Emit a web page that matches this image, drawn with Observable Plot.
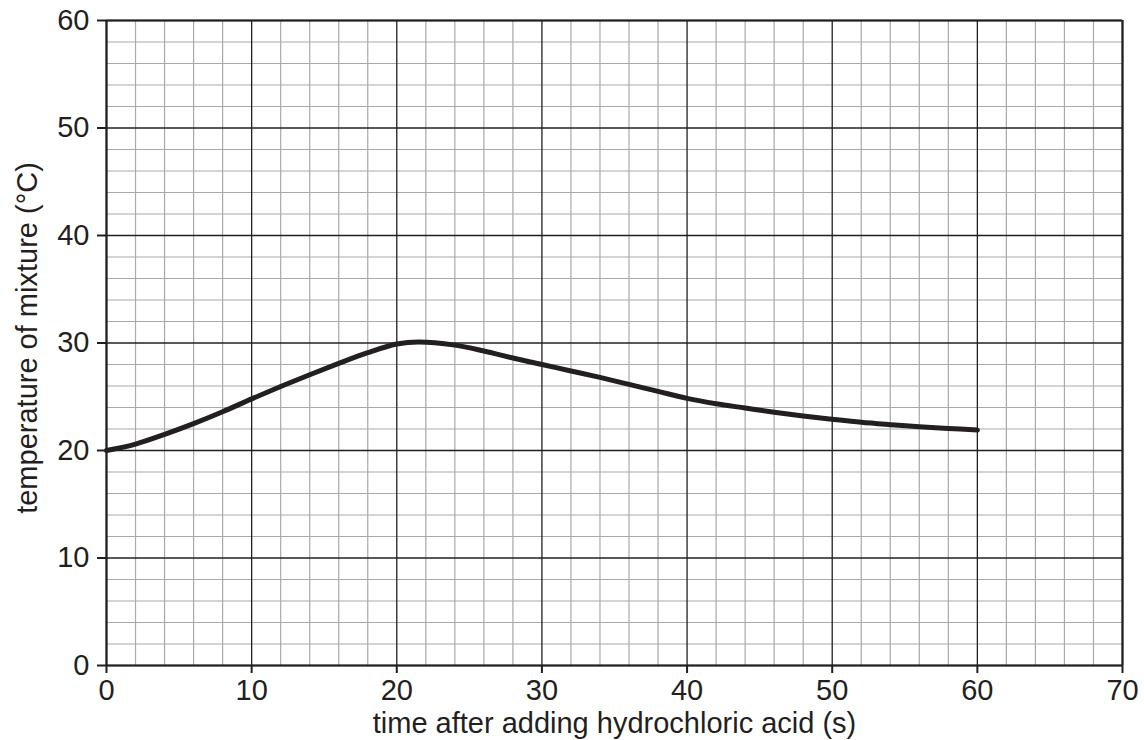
<!DOCTYPE html>
<html>
<head>
<meta charset="utf-8">
<script src="https://cdn.jsdelivr.net/npm/d3@7"></script>
<script src="https://cdn.jsdelivr.net/npm/@observablehq/plot@0.6"></script>
<style>
  html, body { margin: 0; padding: 0; background: #fff; }
  svg { display: block; }
</style>
</head>
<body>
<div id="chart"></div>
<script>
// Data
const time = [0, 2, 4, 6, 8, 10, 12, 14, 16, 18, 20, 21.5, 24, 26, 28, 30, 32, 34, 36, 38, 40, 42, 44, 46, 48, 50, 52, 54, 56, 58, 60];
const temperature = [20, 20.6, 21.5, 22.5, 23.6, 24.8, 25.95, 27.05, 28.1, 29.1, 29.9, 30.1, 29.8, 29.25, 28.6, 28, 27.4, 26.8, 26.15, 25.5, 24.85, 24.35, 23.95, 23.55, 23.2, 22.9, 22.62, 22.4, 22.2, 22.05, 21.9];

const xTicks = [0, 10, 20, 30, 40, 50, 60, 70];
const yTicks = [0, 10, 20, 30, 40, 50, 60];
const xMinor = d3.range(2, 70, 2).filter(v => v % 10 !== 0);
const yMinor = d3.range(2, 60, 2).filter(v => v % 10 !== 0);

const xLabel = "time after adding hydrochloric acid (s)";
const yLabel = "temperature of mixture (°C)";

const data = time.map((t, i) => ({t, temp: temperature[i]}));

const ink = "#231f20";

const chart = Plot.plot({
  width: 1144,
  height: 740,
  marginLeft: 106,
  marginRight: 22,
  marginTop: 20,
  marginBottom: 75,
  style: {fontFamily: "'Liberation Sans', Arial, sans-serif", fontSize: "29px", color: ink, background: "#fff"},
  x: {domain: [0, 70], axis: null},
  y: {domain: [0, 60], axis: null},
  marks: [
    Plot.ruleX(xMinor, {stroke: "#a7a9ac", strokeWidth: 1.2}),
    Plot.ruleY(yMinor, {stroke: "#a7a9ac", strokeWidth: 1.2}),
    Plot.ruleX(xTicks, {stroke: ink, strokeWidth: 1.3}),
    Plot.ruleY(yTicks, {stroke: ink, strokeWidth: 1.3}),
    Plot.ruleX([0, 70], {stroke: ink, strokeWidth: 2.2}),
    Plot.ruleY([0, 60], {stroke: ink, strokeWidth: 2}),
    Plot.line(data, {x: "t", y: "temp", stroke: ink, strokeWidth: 5, curve: "catmull-rom"}),
    Plot.axisX(xTicks, {tickSize: 8, tickPadding: 6, strokeWidth: 2, label: null, fontSize: 29}),
    Plot.axisY(yTicks, {tickSize: 9, tickPadding: 8, strokeWidth: 2, label: null, fontSize: 29}),
    Plot.text([xLabel], {frameAnchor: "bottom", dy: 67, lineAnchor: "bottom", text: d => d, fontSize: 29, fill: ink}),
    Plot.text([yLabel], {frameAnchor: "left", dx: -79, dy: -5, rotate: -90, textAnchor: "middle", lineAnchor: "middle", text: d => d, fontSize: 29, fill: ink})
  ]
});

document.getElementById("chart").appendChild(chart);
</script>
</body>
</html>
